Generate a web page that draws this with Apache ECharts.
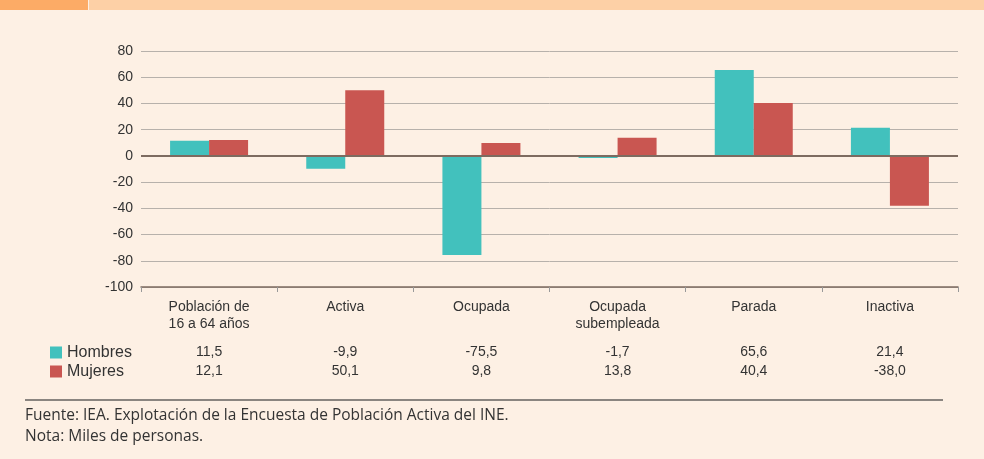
<!DOCTYPE html>
<html>
<head>
<meta charset="utf-8">
<script src="https://cdn.jsdelivr.net/npm/echarts@6/dist/echarts.min.js"></script>
<style>
  html, body { margin: 0; padding: 0; background: #fdf0e4; }
  #chart { width: 984px; height: 459px; }
</style>
</head>
<body>
<div id="chart"></div>
<script>
const categories = ['Población de\n16 a 64 años', 'Activa', 'Ocupada', 'Ocupada\nsubempleada', 'Parada', 'Inactiva'];
const hombres = [11.5, -9.9, -75.5, -1.7, 65.6, 21.4];
const mujeres = [12.1, 50.1, 9.8, 13.8, 40.4, -38.0];
const seriesNames = ['Hombres', 'Mujeres'];

const colors = {
  hombres: '#42c1bd',
  mujeres: '#c95651',
  bg: '#fdf0e4',
  text: '#333333',
  grid: '#b7b1ab',
  axis: '#7d6b60'
};

const fmt = v => v.toFixed(1).replace('.', ',');

function valueAxis(values, offset) {
  return {
    type: 'category',
    data: categories,
    position: 'bottom',
    offset: offset,
    axisLine: { show: false, onZero: false },
    axisTick: { show: false },
    axisLabel: {
      color: colors.text, fontSize: 14,
      formatter: (val, idx) => fmt(values[idx])
    }
  };
}

const chart = echarts.init(document.getElementById('chart'));
chart.setOption({
  backgroundColor: colors.bg,
  animation: false,
  textStyle: { fontFamily: 'Liberation Sans, Arial, sans-serif' },
  grid: { left: 141, right: 26, top: 51, bottom: 172 },
  legend: {
    data: seriesNames,
    orient: 'vertical',
    left: 45, top: 338,
    itemWidth: 12, itemHeight: 12, itemGap: 0,
    icon: 'rect',
    textStyle: { color: colors.text, fontSize: 16, lineHeight: 19 }
  },
  xAxis: [
    {
      type: 'category',
      data: categories,
      axisLine: { onZero: false, lineStyle: { color: colors.axis, width: 1.5 } },
      axisTick: { show: true, length: 5, lineStyle: { color: '#999' } },
      axisLabel: { color: colors.text, fontSize: 14, lineHeight: 17, margin: 12, verticalAlign: 'top' }
    },
    valueAxis(hombres, 50),
    valueAxis(mujeres, 69)
  ],
  yAxis: {
    type: 'value',
    min: -100, max: 80, interval: 20,
    axisLine: { show: false },
    axisTick: { show: false },
    axisLabel: { color: colors.text, fontSize: 14, margin: 8 },
    splitLine: { lineStyle: { color: colors.grid, width: 1 } }
  },
  series: [
    {
      name: seriesNames[0], type: 'bar', data: hombres,
      barWidth: 39, barGap: '0%',
      itemStyle: { color: colors.hombres },
      markLine: {
        silent: true, symbol: 'none', label: { show: false },
        lineStyle: { color: colors.axis, type: 'solid', width: 2 },
        data: [{ yAxis: 0 }]
      }
    },
    {
      name: seriesNames[1], type: 'bar', data: mujeres,
      barWidth: 39, barGap: '0%',
      itemStyle: { color: colors.mujeres }
    }
  ],
  graphic: [
    { type: 'rect', left: 0, top: 0, shape: { width: 88, height: 10 }, style: { fill: '#fcab66' } },
    { type: 'rect', left: 89, top: 0, shape: { width: 895, height: 10 }, style: { fill: '#fdd0a6' } },
    { type: 'line', shape: { x1: 25, y1: 400, x2: 943, y2: 400 }, style: { stroke: '#8a8580', lineWidth: 2 } },
    { type: 'text', left: 25, top: 408, style: { text: 'Fuente: IEA. Explotación de la Encuesta de Población Activa del INE.', fill: '#333', font: '15.5px "Open Sans"' } },
    { type: 'text', left: 25, top: 429, style: { text: 'Nota: Miles de personas.', fill: '#333', font: '15.5px "Open Sans"' } }
  ]
});

window.addEventListener('resize', function() { chart.resize(); });
</script>
</body>
</html>
